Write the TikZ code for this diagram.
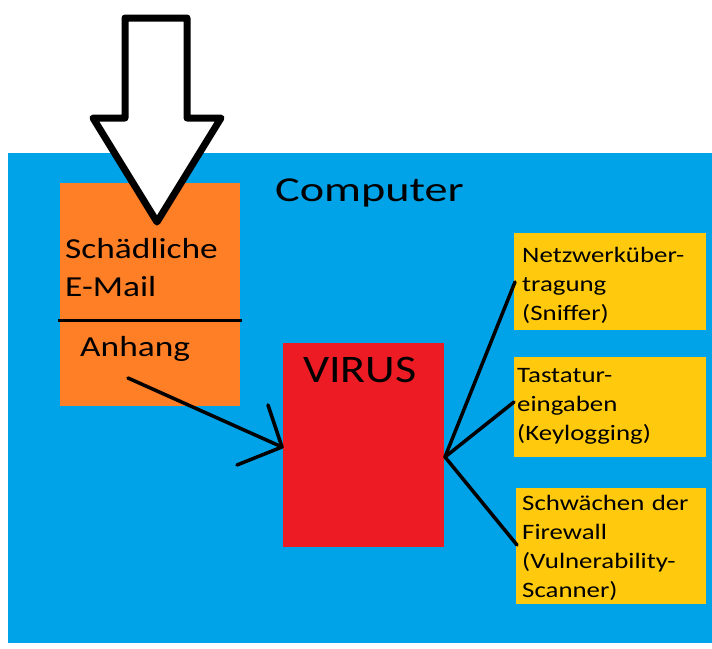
\documentclass[tikz,border=0pt]{standalone}
\usepackage{fontspec}
\setmainfont{Carlito}
\newfontfamily\widefont[FakeStretch=1.22]{Carlito}
\newfontfamily\widerfont[FakeStretch=1.32]{Carlito}
\newfontfamily\virusfont[FakeStretch=1.18]{Carlito}
\definecolor{paintblue}{HTML}{00A2E8}
\definecolor{paintorange}{HTML}{FF7F27}
\definecolor{paintred}{HTML}{ED1C24}
\definecolor{paintyellow}{HTML}{FFC90E}
\begin{document}
\begin{tikzpicture}[x=1pt,y=-1pt,
  lbl/.style={anchor=base west,inner sep=0pt,align=left},
  smalltext/.style={lbl,text width=190pt,font=\widefont\fontsize{22}{29.2}\selectfont},
  conn/.style={line width=3.5pt,line cap=round,line join=round},
]
\useasboundingbox (0,0) rectangle (712,648);
% computer area
\fill[paintblue] (8,153) rectangle (712,643);
\node[lbl,font=\widerfont\fontsize{35}{38}\selectfont] (computer) at (275,201) {Computer};
% email box
\fill[paintorange] (60,183) rectangle (240,406);
\coordinate (divL) at (58,320);
\coordinate (divR) at (242,320);
\draw[line width=3pt] (divL) -- (divR);
\node[lbl,text width=180pt,font=\widefont\fontsize{29}{38}\selectfont] (mail) at (65,258) {Schädliche\\E-Mail};
\node[lbl,font=\widefont\fontsize{29}{34}\selectfont] (anhang) at (80,356) {Anhang};
% virus
\fill[paintred] (283,343) rectangle (444,547);
\node[lbl,font=\virusfont\fontsize{39}{42}\selectfont] (virus) at (303,382) {VIRUS};
% yellow boxes
\fill[paintyellow] (514,233) rectangle (706,330);
\fill[paintyellow] (514,357) rectangle (706,457);
\fill[paintyellow] (516,488) rectangle (706,604);
\node[smalltext] (sniff) at (522,262) {Netzwerküber-\\tragung\\(Sniffer)};
\node[smalltext] (keylog) at (517,382) {Tastatur-\\eingaben\\(Keylogging)};
\node[smalltext] (vuln) at (522,510) {Schwächen der\\Firewall\\(Vulnerability-\\Scanner)};
% connectors
\coordinate (aStart) at (128,378);
\coordinate (aEnd) at (282,447);
\coordinate (aW1) at (268,405);
\coordinate (aW2) at (237,465);
\draw[conn] (aStart) -- (aEnd);
\draw[conn] (aW1) -- (aEnd) -- (aW2);
\coordinate (hub) at (445,457);
\coordinate (e1) at (515,282);
\coordinate (e2) at (514,402);
\coordinate (e3) at (517,545);
\draw[conn] (hub) -- (e1);
\draw[conn] (hub) -- (e2);
\draw[conn] (hub) -- (e3);
% incoming arrow
\draw[line width=7pt,fill=white,line join=round]
  (125,18) -- (187,18) -- (187,118) -- (221,118) -- (157,222) -- (93,118) -- (125,118) -- cycle;
\end{tikzpicture}
\end{document}
